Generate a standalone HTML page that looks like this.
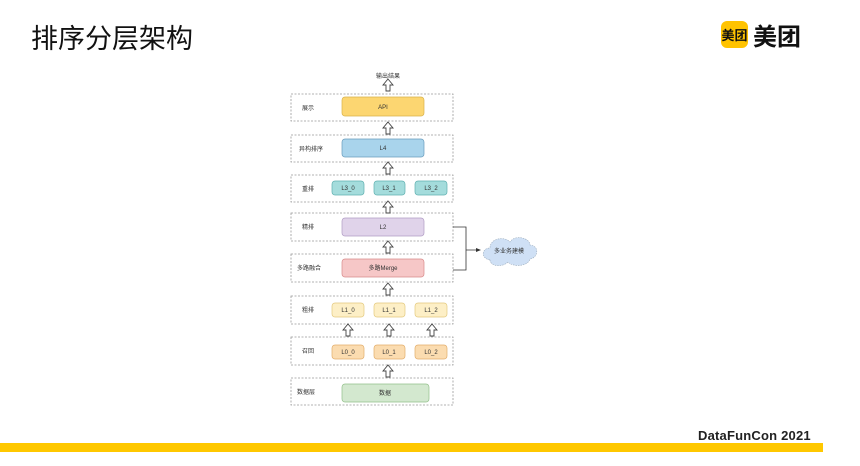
<!DOCTYPE html>
<html><head><meta charset="utf-8">
<style>
html,body{margin:0;padding:0;background:#fff;width:860px;height:466px;overflow:hidden;position:relative;font-family:"Liberation Sans","Noto Sans CJK SC",sans-serif;}
.t{position:absolute;left:31px;top:17px;font-size:27px;color:#111;font-family:"Noto Sans CJK SC",sans-serif;letter-spacing:0px;}
.logo{position:absolute;left:721px;top:21px;width:27px;height:27px;background:#ffc300;border-radius:6px;font-size:13px;font-weight:bold;color:#111;text-align:center;line-height:27px;font-family:"Noto Sans CJK SC",sans-serif;}
.logot{position:absolute;left:753px;top:17px;font-size:24px;font-weight:bold;color:#111;font-family:"Noto Sans CJK SC",sans-serif;}
.bar{position:absolute;left:0;top:443px;width:823px;height:9px;background:#ffc800;}
.df{position:absolute;left:698px;top:428px;font-size:13px;font-weight:bold;color:#222;letter-spacing:0.2px;}
svg{position:absolute;left:0;top:0;}
svg text{font-family:"Liberation Sans","Noto Sans CJK SC",sans-serif;font-size:6px;fill:#333;}
</style></head><body>
<div class="t">排序分层架构</div>
<div class="logo">美团</div>
<div class="logot">美团</div>
<svg width="860" height="466" viewBox="0 0 860 466">
<defs>
<g id="ar"><polygon points="0,-6 5,0 2,0 2,6 -2,6 -2,0 -5,0" fill="#fff" stroke="#444" stroke-width="0.9"/></g>
</defs>
<g fill="none" stroke="#999" stroke-width="0.8" stroke-dasharray="2,1.5">
<rect x="291" y="94" width="162" height="27"/>
<rect x="291" y="135" width="162" height="27"/>
<rect x="291" y="175" width="162" height="27"/>
<rect x="291" y="213" width="162" height="28"/>
<rect x="291" y="254" width="162" height="28"/>
<rect x="291" y="296" width="162" height="28"/>
<rect x="291" y="337" width="162" height="28"/>
<rect x="291" y="378" width="162" height="27"/>
</g>
<text x="388" y="78" text-anchor="middle">输出结果</text>
<g font-size="5.5">
<text x="302" y="110">展示</text>
<text x="299" y="151">异构排序</text>
<text x="302" y="191">重排</text>
<text x="302" y="229">精排</text>
<text x="297" y="270">多路融合</text>
<text x="302" y="312">粗排</text>
<text x="302" y="353">召回</text>
<text x="297" y="394">数据层</text>
</g>
<rect x="342" y="97" width="82" height="19" rx="3" fill="#fcd671" stroke="#d9b24a" stroke-width="0.7"/>
<text x="383" y="109" text-anchor="middle">API</text>
<rect x="342" y="139" width="82" height="18" rx="3" fill="#a9d4ec" stroke="#6a9cbc" stroke-width="0.7"/>
<text x="383" y="150" text-anchor="middle">L4</text>
<g fill="#a4dcdc" stroke="#5fb0b0" stroke-width="0.7">
<rect x="332" y="181" width="32" height="14" rx="3"/>
<rect x="374" y="181" width="31" height="14" rx="3"/>
<rect x="415" y="181" width="32" height="14" rx="3"/>
</g>
<text x="348" y="190" text-anchor="middle">L3_0</text>
<text x="389" y="190" text-anchor="middle">L3_1</text>
<text x="431" y="190" text-anchor="middle">L3_2</text>
<rect x="342" y="218" width="82" height="18" rx="3" fill="#e0d3ea" stroke="#b09cc4" stroke-width="0.7"/>
<text x="383" y="229" text-anchor="middle">L2</text>
<rect x="342" y="259" width="82" height="18" rx="3" fill="#f6c7c7" stroke="#d88a8a" stroke-width="0.7"/>
<text x="383" y="270" text-anchor="middle">多路Merge</text>
<g fill="#fdefc6" stroke="#e3c97e" stroke-width="0.7">
<rect x="332" y="303" width="32" height="14" rx="3"/>
<rect x="374" y="303" width="31" height="14" rx="3"/>
<rect x="415" y="303" width="32" height="14" rx="3"/>
</g>
<text x="348" y="312" text-anchor="middle">L1_0</text>
<text x="389" y="312" text-anchor="middle">L1_1</text>
<text x="431" y="312" text-anchor="middle">L1_2</text>
<g fill="#fbdcb0" stroke="#e2ad6a" stroke-width="0.7">
<rect x="332" y="345" width="32" height="14" rx="3"/>
<rect x="374" y="345" width="31" height="14" rx="3"/>
<rect x="415" y="345" width="32" height="14" rx="3"/>
</g>
<text x="348" y="354" text-anchor="middle">L0_0</text>
<text x="389" y="354" text-anchor="middle">L0_1</text>
<text x="431" y="354" text-anchor="middle">L0_2</text>
<rect x="342" y="384" width="87" height="18" rx="3" fill="#d3e8cf" stroke="#93c08b" stroke-width="0.7"/>
<text x="385" y="395" text-anchor="middle">数据</text>
<use href="#ar" x="388" y="85"/>
<use href="#ar" x="388" y="128"/>
<use href="#ar" x="388" y="168"/>
<use href="#ar" x="388" y="207"/>
<use href="#ar" x="388" y="247"/>
<use href="#ar" x="388" y="289"/>
<use href="#ar" x="348" y="330"/>
<use href="#ar" x="389" y="330"/>
<use href="#ar" x="432" y="330"/>
<use href="#ar" x="388" y="371"/>
<path d="M453 227 H466 V270 H453 M466 250 H478" fill="none" stroke="#333" stroke-width="0.8"/>
<polygon points="481,250 476,248 476,252" fill="#333"/>
<path d="M490 260 C480 258 482 248 490 248 C490 238 505 236 510 242 C515 234 530 238 530 245 C540 246 538 258 530 259 C528 267 512 267 508 262 C502 268 490 266 490 260 Z" fill="#cfe0f5" stroke="#9ab" stroke-width="0.6" stroke-dasharray="1.5,1"/>
<text x="509" y="253" text-anchor="middle" font-size="5.5">多业务建模</text>
</svg>
<div class="df">DataFunCon 2021</div>
<div class="bar"></div>
</body></html>
